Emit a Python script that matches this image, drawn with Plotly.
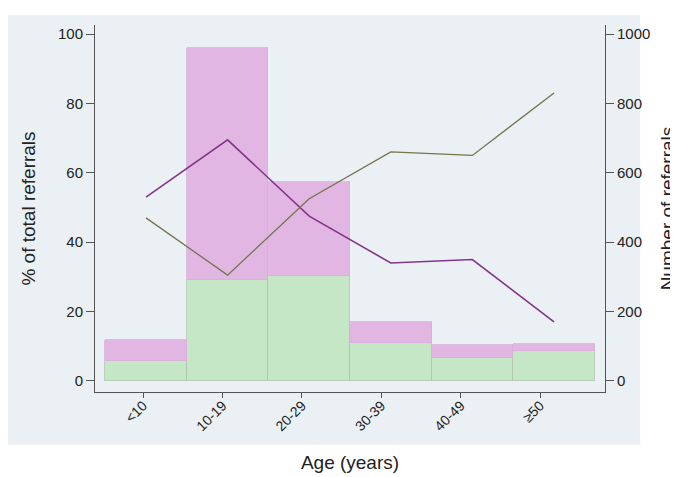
import plotly.graph_objects as go

age_groups = ["<10", "10-19", "20-29", "30-39", "40-49", "≥50"]
# referral counts (right axis), stacked
count_green = [56, 291, 301, 110, 65, 87]
count_pink = [62, 668, 273, 61, 39, 20]
# percentage lines (left axis)
pct_purple = [53, 69.5, 47.5, 34, 35, 17]
pct_olive = [47, 30.5, 52.5, 66, 65, 83]
left_ticks = [0, 20, 40, 60, 80, 100]
right_ticks = [0, 200, 400, 600, 800, 1000]

xpos = list(range(len(age_groups)))
tickpos = [i * 0.973 - 0.035 for i in xpos]

FONT = "Liberation Sans, Arial, sans-serif"

fig = go.Figure()
# bars on primary y (drawn on right side)
fig.add_trace(go.Bar(x=xpos, y=count_green, yaxis="y", width=1.0,
                     marker=dict(color="#c6e7c6", line=dict(color="#b0c8b0", width=0.8)),
                     showlegend=False))
fig.add_trace(go.Bar(x=xpos, y=count_pink, yaxis="y", width=1.0,
                     marker=dict(color="#e2b6e2", line=dict(color="#d8b0d8", width=0.8)),
                     showlegend=False))
# lines on overlaying y2 (drawn on left side, above bars)
fig.add_trace(go.Scatter(x=xpos, y=pct_purple, mode="lines", yaxis="y2",
                         line=dict(color="#84348a", width=1.6), showlegend=False))
fig.add_trace(go.Scatter(x=xpos, y=pct_olive, mode="lines", yaxis="y2",
                         line=dict(color="#75744c", width=1.3), showlegend=False))

fig.update_layout(
    width=670, height=469,
    margin=dict(l=87, r=73, t=17, b=85),
    paper_bgcolor="#ffffff",
    plot_bgcolor="#ffffff",
    barmode="stack", bargap=0,
    font=dict(family=FONT, size=15, color="#222222"),
    shapes=[dict(type="rect", xref="paper", yref="paper", x0=-0.19, x1=1.069, y0=-0.144, y1=1.027,
                 fillcolor="#eaf0f3", line=dict(width=0), layer="below")],
    xaxis=dict(range=[-0.625, 5.625], tickmode="array", tickvals=tickpos, ticktext=age_groups,
               tickangle=-45, ticks="outside", ticklen=5, tickcolor="#555555",
               showline=True, linecolor="#555555", linewidth=1, showgrid=False, zeroline=False,
               automargin=False, ticklabelstandoff=-6,
               title=dict(text="Age (years)", font=dict(size=19), standoff=22),
               tickfont=dict(size=14)),
    yaxis=dict(range=[-32, 1026], tickvals=right_ticks, side="right",
               ticks="outside", ticklen=8, tickcolor="#555555", showline=True,
               linecolor="#555555", linewidth=1, showgrid=False, zeroline=False,
               automargin=False,
               title=dict(text="Number of referrals", font=dict(size=19), standoff=11)),
    yaxis2=dict(range=[-3.2, 102.6], tickvals=left_ticks, overlaying="y", side="left",
                ticks="outside", ticklen=8, tickcolor="#555555", showline=True,
                linecolor="#555555", linewidth=1, showgrid=False, zeroline=False,
                automargin=False,
                title=dict(text="% of total referrals", font=dict(size=19), standoff=17)),
)

fig.write_html("out.html")
